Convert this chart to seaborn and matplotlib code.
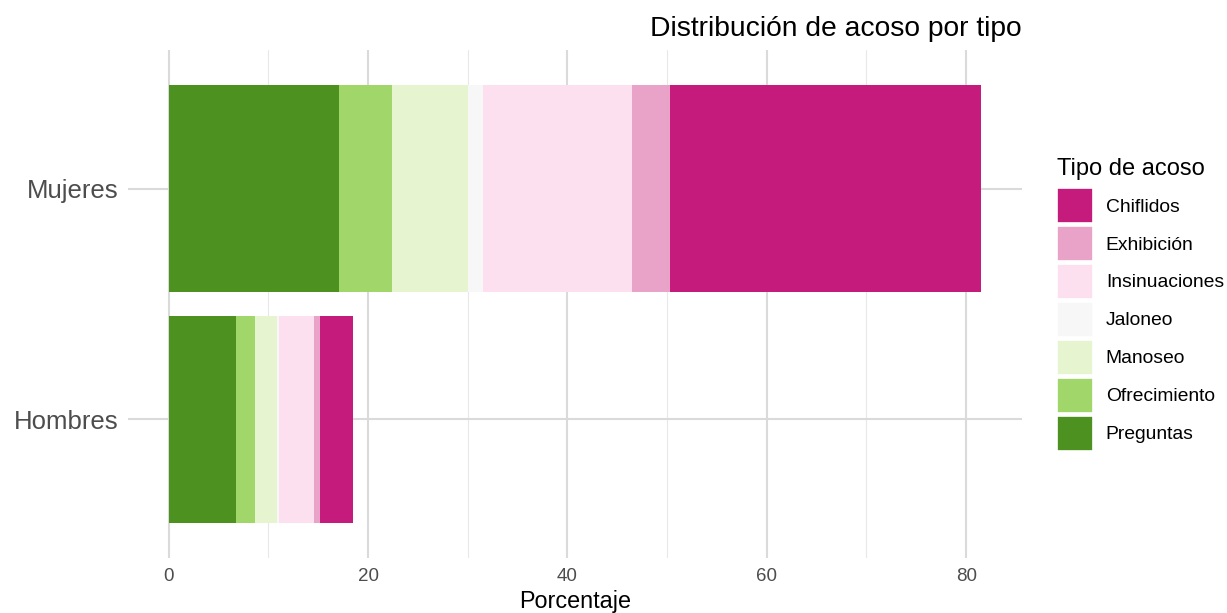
import numpy as np
import pandas as pd
import seaborn as sns
import matplotlib.pyplot as plt
from matplotlib.patches import Patch

# ── Data (percent of all reports) ─────────────────────────────────────────────
sexos = ["Mujeres", "Hombres"]
tipos = ["Preguntas", "Ofrecimiento", "Manoseo", "Jaloneo",
         "Insinuaciones", "Exhibición", "Chiflidos"]
mujeres = [17.1, 5.3, 7.6, 1.5, 15.0, 3.8, 31.2]
hombres = [6.8, 1.9, 2.15, 0.2, 3.5, 0.6, 3.3]

# PiYG, dark green → magenta (same order as tipos)
colores = ["#4d9221", "#a1d76a", "#e6f5d0", "#f7f7f7",
           "#fde0ef", "#e9a3c9", "#c51b7d"]

df = pd.DataFrame({
    "sexo": np.repeat(sexos, len(tipos)),
    "tipo": tipos * 2,
    "pct": mujeres + hombres,
})
df["acum"] = df.groupby("sexo")["pct"].cumsum()

# ── Figure ────────────────────────────────────────────────────────────────────
sns.set_style("white")
plt.rcParams["font.family"] = ["Liberation Sans", "DejaVu Sans"]
plt.rcParams["text.color"] = "black"
plt.rcParams["axes.labelcolor"] = "black"

fig = plt.figure(figsize=(12.27, 6.13), dpi=100)
ax = fig.add_axes([128 / 1227, 1 - 558 / 613, (1022 - 128) / 1227, (558 - 50) / 613])

# stacked bars: draw cumulative totals from the outermost segment inwards
for tipo, color in reversed(list(zip(tipos, colores))):
    sub = df[df["tipo"] == tipo]
    sns.barplot(data=sub, x="acum", y="sexo", order=sexos, color=color,
                width=0.9, linewidth=0, saturation=1, orient="h", ax=ax, zorder=3)

ax.set_xlim(-4.075, 85.6)
ax.set_ylim(1.6, -0.6)
ax.set_xticks([0, 20, 40, 60, 80])
ax.set_xticks([10, 30, 50, 70], minor=True)
ax.grid(True, which="major", axis="both", color="#dadada", linewidth=1.5, zorder=0)
ax.grid(True, which="minor", axis="x", color="#e8e8e8", linewidth=0.8, zorder=0)
ax.set_axisbelow(True)
for s in ax.spines.values():
    s.set_visible(False)
ax.tick_params(axis="both", which="both", length=0)
ax.tick_params(axis="x", labelsize=13.5, labelcolor="#4d4d4d", pad=7)
ax.tick_params(axis="y", labelsize=18.5, labelcolor="#4d4d4d", pad=7)

ax.set_ylabel("")
ax.set_xlabel("Porcentaje", fontsize=16.8, labelpad=4, color="black")
ax.set_title("Distribución de acoso por tipo", loc="right", fontsize=20.3, pad=10,
             color="black")

handles = [Patch(facecolor=c, edgecolor="white", linewidth=1.2)
           for c in reversed(colores)]
leg = fig.legend(handles, list(reversed(tipos)), title="Tipo de acoso",
                 loc="upper left", bbox_to_anchor=(1057 / 1227, 1 - 158 / 613),
                 frameon=False, fontsize=13.9, title_fontsize=17,
                 handlelength=1.85, handleheight=2.41, labelspacing=0.15,
                 handletextpad=0.68, borderpad=0, borderaxespad=0,
                 alignment="left", labelcolor="black")
leg._legend_box.sep = 6  # extra room between title and keys

fig.savefig("out.png", dpi=100)
